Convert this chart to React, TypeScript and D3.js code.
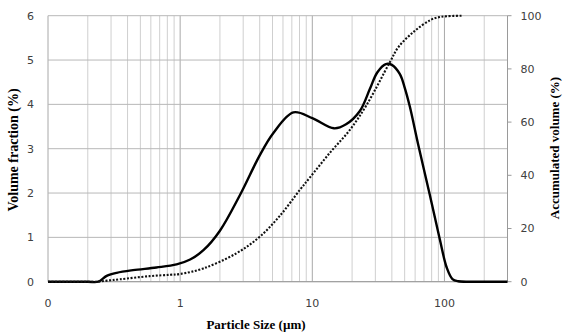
import {useEffect, useRef} from 'react';
import * as d3 from 'd3';

// particle size (um) vs volume fraction (%)
const sizes = [0.1, 0.2, 0.24, 0.278, 0.331, 0.44, 0.66, 0.94, 1.19, 1.5, 2.0, 2.83, 4.0, 5.06, 7.2, 10, 14.6, 18, 22.9, 27.3, 31, 36, 40, 46, 50, 54.7, 63.2, 77.6, 92.3, 104, 115, 127, 160, 200, 300];
const volumeFraction = [0, 0, 0, 0.13, 0.2, 0.26, 0.32, 0.39, 0.5, 0.71, 1.15, 1.95, 2.85, 3.35, 3.82, 3.69, 3.46, 3.55, 3.85, 4.35, 4.72, 4.91, 4.89, 4.68, 4.38, 3.95, 3.1, 1.95, 0.95, 0.32, 0.06, 0.01, 0, 0, 0];

// particle size (um) vs accumulated volume (%)
const cumSizes = [0.1, 0.2, 0.24, 0.28, 0.35, 0.59, 0.84, 1.0, 1.5, 2.67, 4.0, 5.69, 8.05, 9.6, 13.6, 19.2, 25.8, 38.6, 45, 58.7, 78.5, 92, 104, 136];
const accumulated = [0, 0, 0, 0.4, 0.9, 2.1, 2.6, 2.9, 5.0, 10.7, 16.9, 24.8, 34.5, 39.2, 48.5, 57, 66.5, 82.5, 88.3, 94, 98.4, 99.5, 99.8, 100];

const xTicks = [0.1, 1, 10, 100];
const xTickLabels = ['0', '1', '10', '100'];
const leftTicks = [0, 1, 2, 3, 4, 5, 6];
const rightTicks = [0, 20, 40, 60, 80, 100];

export default function App() {
    const svgRef = useRef(null);
    const width = 564, height = 334;
    const margin = {top: 15.7, right: 56.5, bottom: 52.3, left: 48};

    useEffect(() => {
        const svg = d3.select(svgRef.current);
        svg.selectAll('*').remove();

        const bw = width - margin.left - margin.right;
        const bh = height - margin.top - margin.bottom;
        const g = svg.append('g').attr('transform', `translate(${margin.left},${margin.top})`);

        const x = d3.scaleLog().domain([0.1, 300]).range([0, bw]);
        const yL = d3.scaleLinear().domain([0, 6]).range([bh, 0]);
        const yR = d3.scaleLinear().domain([0, 100]).range([bh, 0]);

        // vertical grid (minor then major)
        const minor = [];
        [0.1, 1, 10, 100].forEach(dec => {
            for (let m = 2; m <= 9; m++) if (dec * m <= 300) minor.push(dec * m);
        });
        g.selectAll('.vminor').data(minor).join('line')
            .attr('x1', d => x(d)).attr('x2', d => x(d))
            .attr('y1', 0).attr('y2', bh)
            .attr('stroke', '#cfcfcf').attr('stroke-width', 1);
        g.selectAll('.vmajor').data(xTicks).join('line')
            .attr('x1', d => x(d)).attr('x2', d => x(d))
            .attr('y1', 0).attr('y2', bh)
            .attr('stroke', '#a8a8a8').attr('stroke-width', 1);

        // horizontal grid
        g.selectAll('.hgrid').data(leftTicks).join('line')
            .attr('x1', 0).attr('x2', bw)
            .attr('y1', d => yL(d)).attr('y2', d => yL(d))
            .attr('stroke', '#b8b8b8').attr('stroke-width', 1);

        // right axis line + ticks
        g.append('line').attr('x1', bw).attr('x2', bw).attr('y1', 0).attr('y2', bh)
            .attr('stroke', '#9a9a9a');
        g.selectAll('.rtick').data(rightTicks).join('line')
            .attr('x1', bw).attr('x2', bw + 4)
            .attr('y1', d => yR(d)).attr('y2', d => yR(d))
            .attr('stroke', '#9a9a9a');
        g.append('line').attr('x1', 0).attr('x2', bw).attr('y1', bh).attr('y2', bh)
            .attr('stroke', '#9a9a9a');

        const labelFont = 'DejaVu Sans, Verdana, sans-serif';
        g.selectAll('.ltext').data(leftTicks).join('text')
            .attr('x', -14).attr('y', d => yL(d)).attr('dy', '0.35em')
            .attr('text-anchor', 'end')
            .style('font', `11px ${labelFont}`).attr('fill', '#404040')
            .text(d => d);
        g.selectAll('.rtext').data(rightTicks).join('text')
            .attr('x', bw + 13).attr('y', d => yR(d)).attr('dy', '0.35em')
            .style('font', `11px ${labelFont}`).attr('fill', '#404040')
            .text(d => d);
        g.selectAll('.xtext').data(xTicks).join('text')
            .attr('x', d => x(d)).attr('y', bh + 25)
            .attr('text-anchor', 'middle')
            .style('font', `11px ${labelFont}`).attr('fill', '#404040')
            .text((d, i) => xTickLabels[i]);

        // curves
        const line = d3.line().curve(d3.curveCatmullRom.alpha(0.5));
        g.append('path')
            .attr('d', line(sizes.map((s, i) => [x(s), yL(volumeFraction[i])])))
            .attr('fill', 'none').attr('stroke', '#000').attr('stroke-width', 2.4);
        g.append('path')
            .attr('d', line(cumSizes.map((s, i) => [x(s), yR(accumulated[i])])))
            .attr('fill', 'none').attr('stroke', '#111').attr('stroke-width', 2.1)
            .attr('stroke-dasharray', '2,1.6');

        // titles
        const titleFont = '"Liberation Serif", "Times New Roman", serif';
        svg.append('text')
            .attr('x', 256).attr('y', 329).attr('text-anchor', 'middle')
            .style('font', `bold 13px ${titleFont}`).attr('fill', '#000')
            .text('Particle Size (µm)');
        svg.append('text')
            .attr('transform', 'translate(18,150) rotate(-90)').attr('text-anchor', 'middle')
            .style('font', `bold 14px ${titleFont}`).attr('fill', '#000')
            .text('Volume fraction (%)');
        svg.append('text')
            .attr('transform', 'translate(559,148) rotate(-90)').attr('text-anchor', 'middle')
            .style('font', `bold 13px ${titleFont}`).attr('fill', '#000')
            .text('Accumulated volume (%)');
    }, []);

    return <svg ref={svgRef} width={width} height={height}
                style={{position: 'absolute', left: 0, top: 0, background: '#fff'}}/>;
}
